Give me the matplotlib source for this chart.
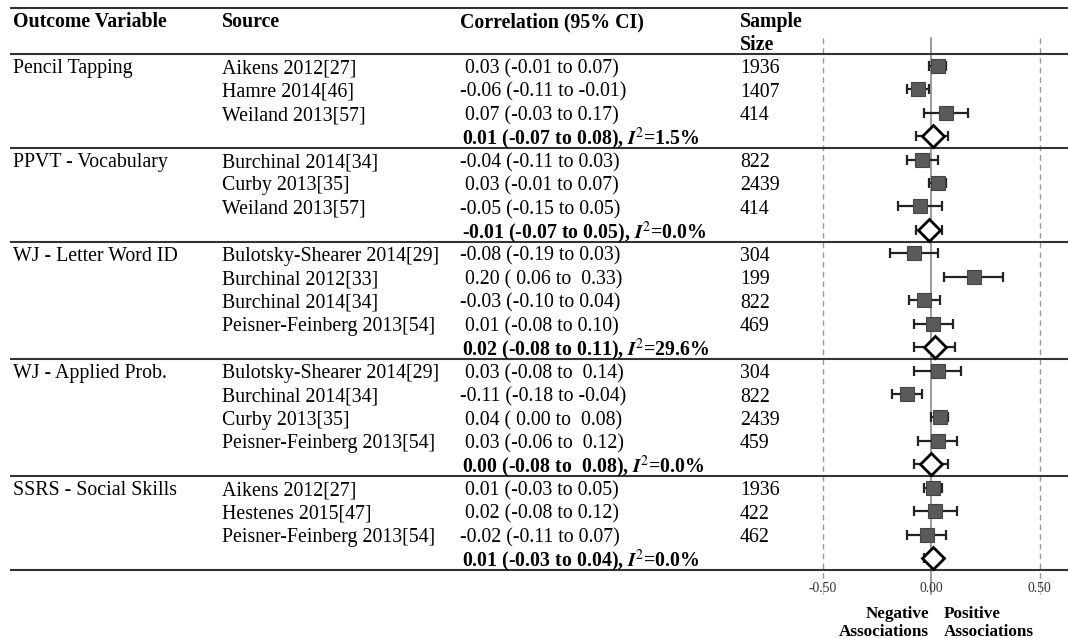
import numpy as np
import matplotlib
matplotlib.use("Agg")
import matplotlib.pyplot as plt

plt.rcParams['font.family'] = ['Liberation Serif', 'DejaVu Serif']
plt.rcParams['mathtext.fontset'] = 'stix'

# ---- data ----
outcomes = ['Pencil Tapping', 'PPVT - Vocabulary', 'WJ - Letter Word ID',
            'WJ - Applied Prob.', 'SSRS - Social Skills']

sources = [
    ['Aikens 2012[27]', 'Hamre 2014[46]', 'Weiland 2013[57]'],
    ['Burchinal 2014[34]', 'Curby 2013[35]', 'Weiland 2013[57]'],
    ['Bulotsky-Shearer 2014[29]', 'Burchinal 2012[33]', 'Burchinal 2014[34]',
     'Peisner-Feinberg 2013[54]'],
    ['Bulotsky-Shearer 2014[29]', 'Burchinal 2014[34]', 'Curby 2013[35]',
     'Peisner-Feinberg 2013[54]'],
    ['Aikens 2012[27]', 'Hestenes 2015[47]', 'Peisner-Feinberg 2013[54]'],
]

corr = [[0.03, -0.06, 0.07], [-0.04, 0.03, -0.05], [-0.08, 0.20, -0.03, 0.01],
        [0.03, -0.11, 0.04, 0.03], [0.01, 0.02, -0.02]]
ci_lo = [[-0.01, -0.11, -0.03], [-0.11, -0.01, -0.15], [-0.19, 0.06, -0.10, -0.08],
         [-0.08, -0.18, 0.00, -0.06], [-0.03, -0.08, -0.11]]
ci_hi = [[0.07, -0.01, 0.17], [0.03, 0.07, 0.05], [0.03, 0.33, 0.04, 0.10],
         [0.14, -0.04, 0.08, 0.12], [0.05, 0.12, 0.07]]
sample_n = [[1936, 1407, 414], [822, 2439, 414], [304, 199, 822, 469],
            [304, 822, 2439, 459], [1936, 422, 462]]

ci_text = [
    [' 0.03 (-0.01 to 0.07)', '-0.06 (-0.11 to -0.01)', ' 0.07 (-0.03 to 0.17)'],
    ['-0.04 (-0.11 to 0.03)', ' 0.03 (-0.01 to 0.07)', '-0.05 (-0.15 to 0.05)'],
    ['-0.08 (-0.19 to 0.03)', ' 0.20 ( 0.06 to  0.33)', '-0.03 (-0.10 to 0.04)',
     ' 0.01 (-0.08 to 0.10)'],
    [' 0.03 (-0.08 to  0.14)', '-0.11 (-0.18 to -0.04)', ' 0.04 ( 0.00 to  0.08)',
     ' 0.03 (-0.06 to  0.12)'],
    [' 0.01 (-0.03 to 0.05)', ' 0.02 (-0.08 to 0.12)', '-0.02 (-0.11 to 0.07)'],
]

pooled = [0.01, -0.01, 0.02, 0.00, 0.01]
pooled_lo = [-0.07, -0.07, -0.08, -0.08, -0.03]
pooled_hi = [0.08, 0.05, 0.11, 0.08, 0.04]
pooled_text = ['0.01 (-0.07 to 0.08)', '-0.01 (-0.07 to 0.05)', '0.02 (-0.08 to 0.11)',
               '0.00 (-0.08 to  0.08)', '0.01 (-0.03 to 0.04)']
i2 = ['1.5%', '0.0%', '29.6%', '0.0%', '0.0%']

# ---- figure: one axes, x in correlation units, y in table rows ----
fig = plt.figure(figsize=(10.68, 6.38), dpi=100)
ax = fig.add_axes([0, 0, 1, 1])
px = 217.0          # pixels per correlation unit
x0 = 931.0          # pixel of r = 0
rowh = 23.45        # pixels per row
y0 = 54.0           # pixel of header line
ax.set_xlim(-x0 / px, (1068 - x0) / px)
ax.set_ylim((638 - y0) / rowh, -y0 / rowh)
ax.axis('off')

def xp(p):
    return (p - x0) / px

def yp(p):
    return (p - y0) / rowh

fs = 14.3
dy = 3.0 / rowh     # text sits a little below the marker centre
col_out, col_src, col_ci, col_n = xp(13), xp(222), xp(460), xp(740)
line_x0 = xp(10)
x_end = ax.get_xlim()[1]
line_c = '#333333'

# header
hy = yp(22)
ax.text(col_out, hy, 'Outcome Variable', fontsize=fs, fontweight='bold', va='center')
ax.text(col_src, hy, 'Source', fontsize=fs, fontweight='bold', va='center')
ax.text(col_ci, hy, 'Correlation (95% CI)', fontsize=fs, fontweight='bold', va='center')
ax.text(col_n, hy, 'Sample', fontsize=fs, fontweight='bold', va='center')
ax.text(col_n, yp(45), 'Size', fontsize=fs, fontweight='bold', va='center')

# reference lines
ax.plot([0, 0], [yp(38), yp(594)], color='#8a8a8a', lw=1.2, zorder=1)
for v in (-0.5, 0.5):
    ax.plot([v, v], [yp(38), yp(594)], color='#9a9a9a', lw=1.0, ls=(0, (4, 3)), zorder=1)

ax.hlines([yp(8), 0], line_x0, x_end, color=line_c, lw=1.5)

row = 0
for g in range(len(outcomes)):
    ax.text(col_out, row + 0.5 + dy, outcomes[g], fontsize=fs, va='center')
    for k in range(len(sources[g])):
        y = row + 0.5
        ax.text(col_src, y + dy, sources[g][k], fontsize=fs, va='center')
        ax.text(col_ci, y + dy, ci_text[g][k], fontsize=fs, va='center')
        ax.text(col_n, y + dy, str(sample_n[g][k]), fontsize=fs, va='center')
        ax.errorbar(corr[g][k], y,
                    xerr=[[corr[g][k] - ci_lo[g][k]], [ci_hi[g][k] - corr[g][k]]],
                    fmt='none', ecolor='#222222', elinewidth=1.6, capsize=3.5,
                    capthick=1.6, zorder=2)
        ax.plot(corr[g][k], y, marker='s', ms=10, mfc='#5a5a5a', mec='#444444',
                mew=0.8, ls='none', zorder=3)
        row += 1
    y = row + 0.5
    ax.text(xp(462), y + dy, pooled_text[g] + r', $\mathbfit{I}^{2}$=' + i2[g],
            fontsize=fs, fontweight='bold', va='center')
    ax.errorbar(pooled[g], y,
                xerr=[[pooled[g] - pooled_lo[g]], [pooled_hi[g] - pooled[g]]],
                fmt='none', ecolor='#222222', elinewidth=1.6, capsize=3.5,
                capthick=1.6, zorder=2)
    ax.plot(pooled[g], y, marker='D', ms=11, mfc='white', mec='black',
            mew=2.0, ls='none', zorder=3)
    row += 1
    ax.hlines(row, line_x0, x_end, color=line_c, lw=1.5)

# axis tick labels
for v, lab in [(-0.5, '-0.50'), (0.0, '0.00'), (0.5, '0.50')]:
    ax.text(v, yp(589), lab, fontsize=9.8, ha='center', va='center', color='#333333')

ax.text(xp(929), yp(623), 'Negative\nAssociations', fontsize=12.3, fontweight='bold',
        ha='right', va='center', multialignment='right', linespacing=1.1)
ax.text(xp(944), yp(623), 'Positive\nAssociations', fontsize=12.3, fontweight='bold',
        ha='left', va='center', multialignment='left', linespacing=1.1)

fig.savefig('out.png', dpi=100)
